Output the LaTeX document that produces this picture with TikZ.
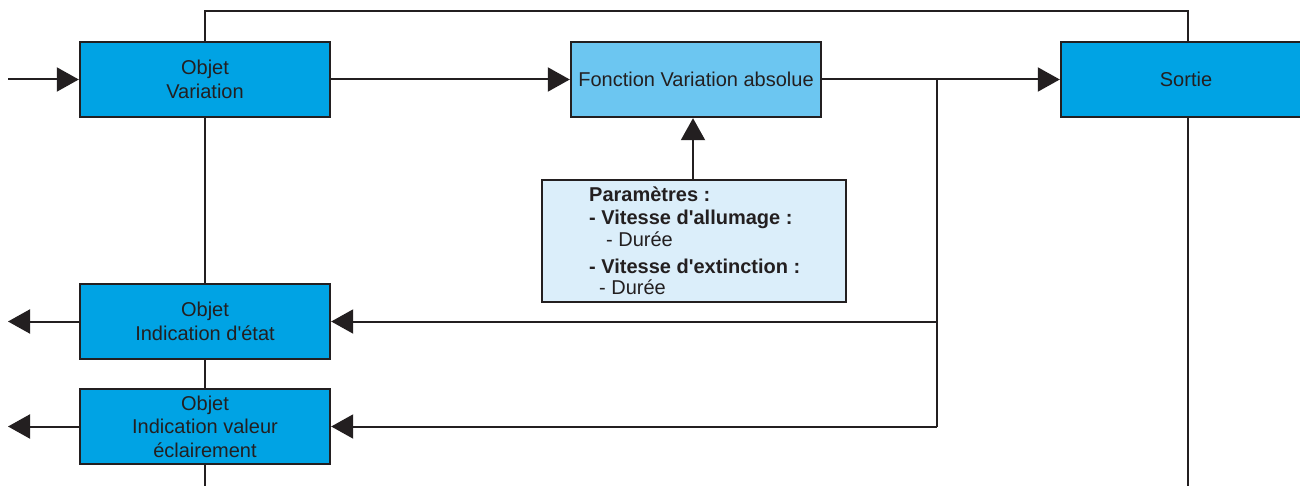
\documentclass[tikz,border=0pt]{standalone}
\usepackage{fontspec}
\newfontfamily\arialf{Liberation Sans}
\usetikzlibrary{arrows.meta}
\definecolor{ink}{HTML}{231F20}
\definecolor{bluebox}{HTML}{00A3E4}
\definecolor{lightbox}{HTML}{6CC6F1}
\definecolor{parambox}{HTML}{DBEEFA}
\tikzset{
  blk/.style={draw=ink, line width=2.4pt, fill=bluebox, minimum width=250pt, minimum height=75pt,
    inner sep=2pt, align=center, text=ink, font=\arialf\fontsize{20}{23.5}\selectfont},
  conn/.style={draw=ink, line width=2pt},
  arr/.style={conn, -{Triangle[length=22pt,width=24pt]}},
  ptxt/.style={anchor=base west, inner sep=0pt, text=ink, font=\arialf\fontsize{20}{22}\selectfont},
}
\begin{document}
\begin{tikzpicture}[x=1pt,y=-1pt]
\useasboundingbox (0,0) rectangle (1300,486);
\clip (0,0) rectangle (1300,486);
\node[blk] (var) at (205,79.5) {Objet\\Variation};
\node[blk, fill=lightbox] (fct) at (696,79.5) {Fonction Variation absolue};
\node[blk] (sort) at (1186,79.5) {Sortie};
\node[blk] (etat) at (205,321.5) {Objet\\Indication d'état};
\node[blk] (val) at (205,426.5) {Objet\\Indication valeur\\éclairement};
\node[draw=ink, line width=2pt, fill=parambox, minimum width=304pt, minimum height=122pt, inner sep=0pt] (par) at (694,241) {};
\node[ptxt] (p1) at (589,201.5) {\bfseries Paramètres :};
\node[ptxt] (p2) at (589,225) {\bfseries - Vitesse d'allumage :};
\node[ptxt] (p3) at (606,246.5) {- Durée};
\node[ptxt] (p4) at (589,273) {\bfseries - Vitesse d'extinction :};
\node[ptxt] (p5) at (599,294) {- Durée};
\coordinate (in) at (8,79.5);
\coordinate (j1) at (937,79.5);
\coordinate (j2) at (937,321.5);
\coordinate (j3) at (937,426.5);
\coordinate (o1) at (8,321.5);
\coordinate (o2) at (8,426.5);
\coordinate (topL) at (205,11);
\coordinate (topR) at (1188,11);
\coordinate (botL) at (205,490);
\coordinate (botR) at (1188,490);
\draw[conn] (var.north) -- (topL) -- (topR) -- (sort.north -| topR);
\draw[conn] (var.south) -- (etat.north);
\draw[conn] (etat.south) -- (val.north);
\draw[conn] (val.south) -- (botL);
\draw[conn] (sort.south -| botR) -- (botR);
\draw[arr] (in) -- (var.west);
\draw[arr] (var.east) -- (fct.west);
\draw[arr] (fct.east) -- (sort.west);
\draw[arr] (par.north -| 693,0) -- (fct.south -| 693,0);
\draw[conn] (j1) -- (j3);
\draw[arr] (j2) -- (etat.east);
\draw[arr] (j3) -- (val.east);
\draw[arr] (etat.west) -- (o1);
\draw[arr] (val.west) -- (o2);
\end{tikzpicture}
\end{document}
